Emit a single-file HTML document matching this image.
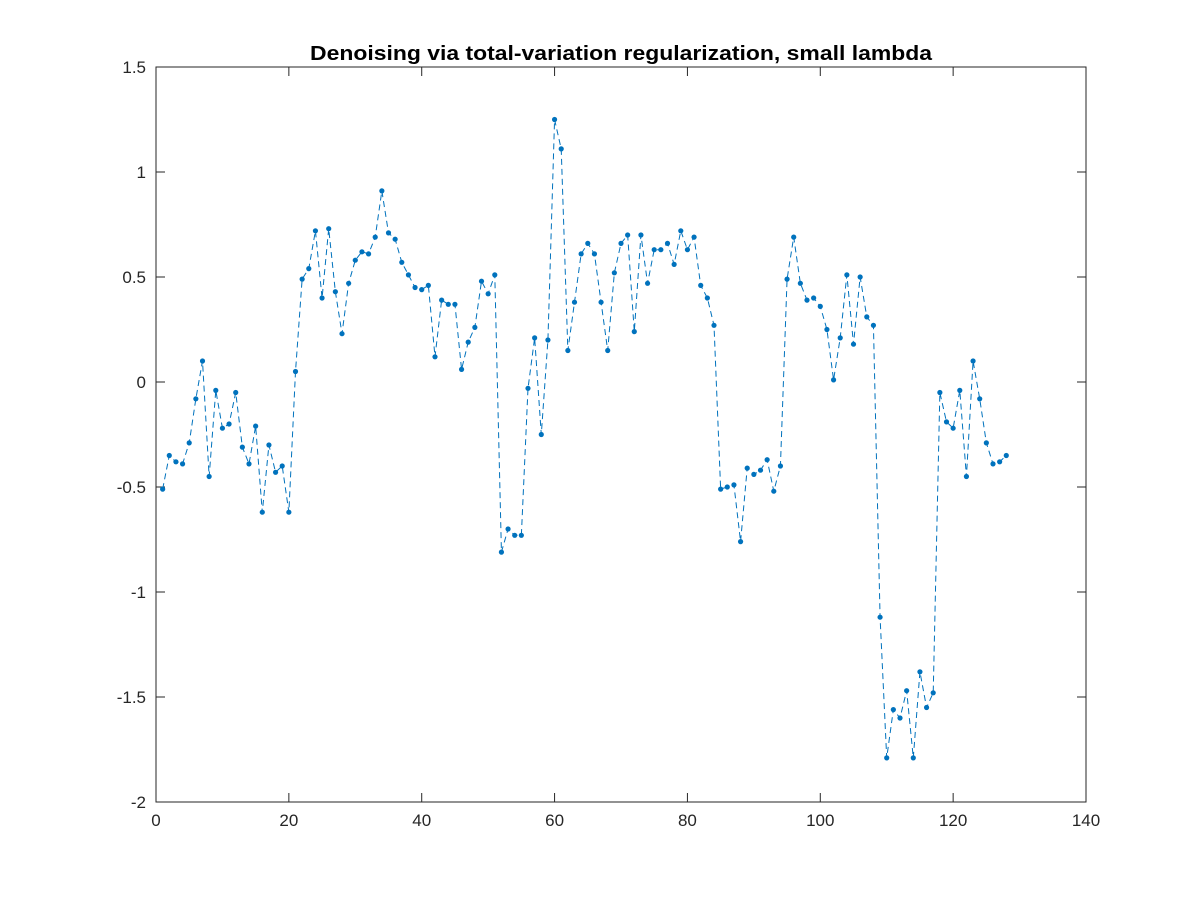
<!DOCTYPE html>
<html><head><meta charset="utf-8"><style>
html,body{margin:0;padding:0;background:#fff;}
svg{display:block;font-family:"Liberation Sans",sans-serif;}
</style></head><body>
<svg id="chart" width="1200" height="900">
<rect x="0" y="0" width="1200" height="900" fill="#fff"/>
<text x="310" y="60" font-size="20" font-weight="bold" fill="#000" textLength="622" lengthAdjust="spacingAndGlyphs">Denoising via total-variation regularization, small lambda</text>
</svg>
<script>
const xTicks = [0,20,40,60,80,100,120,140];
const yTicks = [-2,-1.5,-1,-0.5,0,0.5,1,1.5];
const yTickLabels = ["-2","-1.5","-1","-0.5","0","0.5","1","1.5"];
const values = [-0.51,-0.35,-0.38,-0.39,-0.29,-0.08,0.10,-0.45,-0.04,-0.22,-0.20,-0.05,-0.31,-0.39,-0.21,-0.62,-0.30,-0.43,-0.40,-0.62,
0.05,0.49,0.54,0.72,0.40,0.73,0.43,0.23,0.47,0.58,0.62,0.61,0.69,0.91,0.71,0.68,0.57,0.51,0.45,0.44,
0.46,0.12,0.39,0.37,0.37,0.06,0.19,0.26,0.48,0.42,0.51,-0.81,-0.70,-0.73,-0.73,-0.03,0.21,-0.25,0.20,1.25,
1.11,0.15,0.38,0.61,0.66,0.61,0.38,0.15,0.52,0.66,0.70,0.24,0.70,0.47,0.63,0.63,0.66,0.56,0.72,0.63,
0.69,0.46,0.40,0.27,-0.51,-0.50,-0.49,-0.76,-0.41,-0.44,-0.42,-0.37,-0.52,-0.40,0.49,0.69,0.47,0.39,0.40,0.36,
0.25,0.01,0.21,0.51,0.18,0.50,0.31,0.27,-1.12,-1.79,-1.56,-1.60,-1.47,-1.79,-1.38,-1.55,-1.48,-0.05,-0.19,-0.22,
-0.04,-0.45,0.10,-0.08,-0.29,-0.39,-0.38,-0.35];

const L=156,R=1086,T=67,B=802;
const xs=v=>L+(v-0)/(140-0)*(R-L);
const ys=v=>B-(v+2)/(3.5)*(B-T);
const svg=document.getElementById('chart');
const NS='http://www.w3.org/2000/svg';
function mk(tag,attrs){const e=document.createElementNS(NS,tag);for(const k in attrs)e.setAttribute(k,attrs[k]);return e;}

const box=mk('rect',{x:L,y:T,width:R-L,height:B-T,fill:'none',stroke:'#262626','stroke-width':1});


svg.appendChild(box);

xTicks.forEach(t=>{
  const x=xs(t);
  const g=mk('g',{});
  
  
  g.appendChild(mk('line',{x1:x,y1:B,x2:x,y2:B-9,stroke:'#262626'}));
  g.appendChild(mk('line',{x1:x,y1:T,x2:x,y2:T+9,stroke:'#262626'}));
  const tx=mk('text',{x:x,y:B+24,'text-anchor':'middle','font-size':17,fill:'#262626'});
  tx.textContent=String(t);
  g.appendChild(tx);
  svg.appendChild(g);
});
yTicks.forEach((t,i)=>{
  const y=ys(t);
  const g=mk('g',{});
  
  
  g.appendChild(mk('line',{x1:L,y1:y,x2:L+9,y2:y,stroke:'#262626'}));
  g.appendChild(mk('line',{x1:R,y1:y,x2:R-9,y2:y,stroke:'#262626'}));
  const tx=mk('text',{x:L-10,y:y+6,'text-anchor':'end','font-size':17,fill:'#262626'});
  tx.textContent=yTickLabels[i];
  g.appendChild(tx);
  svg.appendChild(g);
});

const pts=values.map((v,i)=>xs(i+1).toFixed(2)+','+ys(v).toFixed(2)).join(' ');
const line=mk('polyline',{points:pts,fill:'none',stroke:'#0072BD','stroke-width':1,'stroke-dasharray':'6,4'});


svg.appendChild(line);
values.forEach((v,i)=>{
  const c=mk('circle',{cx:xs(i+1),cy:ys(v),r:2.6,fill:'#0072BD'});
  
  
  svg.appendChild(c);
});
</script>
</body></html>
